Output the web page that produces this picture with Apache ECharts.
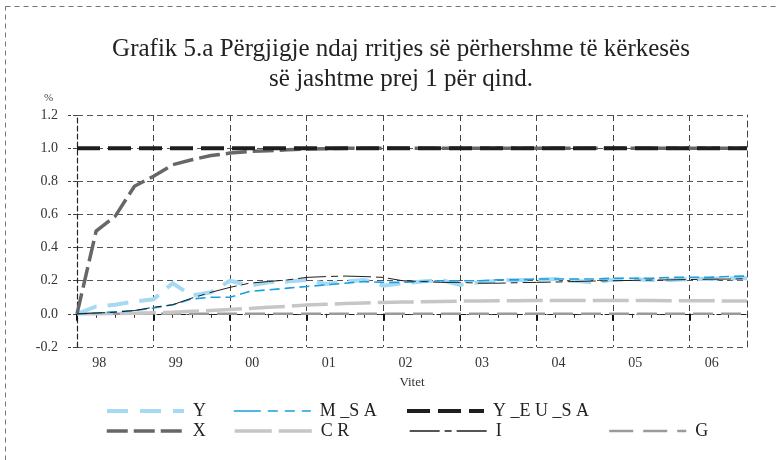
<!DOCTYPE html>
<html>
<head>
<meta charset="utf-8">
<script src="https://cdn.jsdelivr.net/npm/echarts@6/dist/echarts.min.js"></script>
<style>html,body{margin:0;padding:0;background:#fff}#c{width:777px;height:460px}</style>
</head>
<body>
<div id="c"></div>
<script>
// Quarterly categories 1998Q1 .. 2006Q4
var years = ['98','99','00','01','02','03','04','05','06'];
var categories = [];
years.forEach(function (y) { for (var q = 1; q <= 4; q++) categories.push(y + 'Q' + q); });

var yTicks = [-0.2, 0.0, 0.2, 0.4, 0.6, 0.8, 1.0, 1.2];

var seriesY = [0, 0.045, 0.055, 0.075, 0.088, 0.185, 0.11, 0.13, 0.20, 0.17, 0.19, 0.195,
  0.205, 0.18, 0.195, 0.205, 0.17, 0.185, 0.195, 0.205, 0.175, 0.19, 0.20, 0.205,
  0.205, 0.21, 0.20, 0.19, 0.205, 0.21, 0.205, 0.205, 0.21, 0.21, 0.215, 0.215];
var seriesM_SA = [0, 0.005, 0.012, 0.02, 0.035, 0.055, 0.09, 0.10, 0.10, 0.135, 0.145, 0.155,
  0.165, 0.175, 0.185, 0.195, 0.19, 0.19, 0.195, 0.20, 0.20, 0.20, 0.205, 0.205,
  0.21, 0.21, 0.21, 0.21, 0.215, 0.215, 0.215, 0.22, 0.22, 0.22, 0.225, 0.228];
var seriesY_EU_SA = [1, 1, 1, 1, 1, 1, 1, 1, 1, 1, 1, 1, 1, 1, 1, 1, 1, 1,
  1, 1, 1, 1, 1, 1, 1, 1, 1, 1, 1, 1, 1, 1, 1, 1, 1, 1];
var seriesX = [0, 0.50, 0.59, 0.77, 0.83, 0.90, 0.93, 0.955, 0.97, 0.98, 0.985, 0.99,
  0.995, 0.997, 1, 1, 1, 1, 1, 1, 1, 1, 1, 1, 1, 1, 1, 1, 1, 1, 1, 1, 1, 1, 1, 1];
var seriesCR = [0, 0.001, 0.002, 0.004, 0.006, 0.01, 0.015, 0.02, 0.027, 0.033, 0.04, 0.045,
  0.053, 0.058, 0.062, 0.066, 0.069, 0.071, 0.073, 0.075, 0.077, 0.078, 0.079, 0.079,
  0.08, 0.08, 0.08, 0.08, 0.08, 0.08, 0.08, 0.079, 0.079, 0.079, 0.078, 0.078];
var seriesI = [0, 0.005, 0.01, 0.02, 0.04, 0.055, 0.095, 0.13, 0.16, 0.185, 0.195, 0.205,
  0.22, 0.225, 0.228, 0.225, 0.22, 0.20, 0.195, 0.19, 0.19, 0.185, 0.185, 0.188,
  0.19, 0.192, 0.195, 0.198, 0.20, 0.202, 0.204, 0.205, 0.207, 0.209, 0.21, 0.212];
var seriesG = [0, 0, 0, 0, 0, 0, 0, 0, 0, 0, 0, 0, 0, 0, 0, 0, 0, 0,
  0, 0, 0, 0, 0, 0, 0, 0, 0, 0, 0, 0, 0, 0, 0, 0, 0, 0];

var FONT = 'Liberation Serif';
var chart = echarts.init(document.getElementById('c'), null, { renderer: 'canvas' });

var styles = {
  'G': { color: '#9a9a9a', width: 2.5, dash: [20, 8], legDash: [24, 10] },
  'C R': { color: '#c6c6c6', width: 3.5, dash: [36, 7], legDash: [37, 7] },
  'Y': { color: '#a6daf3', width: 4, dash: [21, 11], legDash: [21, 12] },
  'X': { color: '#676767', width: 3.5, dash: [21, 6], legDash: [21, 6] },
  'Y _E U _S A': { color: '#1e1e1e', width: 4, dash: [23, 8], legDash: [23, 8] },
  'M _S A': { color: '#1a9fe0', width: 1.6, dash: [10, 5], legDash: [27, 7, 10, 7, 10, 7] },
  'I': { color: '#1e1e1e', width: 1, dash: [28, 5, 7, 5], legDash: [30, 5, 7, 5] }
};

function mkSeries(name, data, z) {
  var s = styles[name];
  return {
    name: name, type: 'line', data: data, symbol: 'none', showSymbol: false,
    xAxisIndex: 0, yAxisIndex: 0, z: z, silent: true,
    lineStyle: { color: s.color, width: s.width, type: s.dash, cap: 'butt', join: 'miter' },
    itemStyle: { color: s.color }
  };
}

var series = [
  mkSeries('G', seriesG, 2),
  mkSeries('C R', seriesCR, 3),
  mkSeries('Y', seriesY, 4),
  mkSeries('X', seriesX, 5),
  mkSeries('Y _E U _S A', seriesY_EU_SA, 6),
  mkSeries('M _S A', seriesM_SA, 7),
  mkSeries('I', seriesI, 8)
];

function leg(name, left, top) {
  var s = styles[name];
  return {
    data: [name], left: left, top: top, itemWidth: 77, itemHeight: 12,
    padding: 0, itemGap: 0, selectedMode: false,
    itemStyle: { color: 'transparent', borderWidth: 0, opacity: 0 },
    lineStyle: { color: s.color, width: Math.max(s.width, 1.3), type: s.legDash, cap: 'butt' },
    textStyle: { fontFamily: FONT, fontSize: 18, color: '#222', padding: [0, 0, 0, 4] }
  };
}

var option = {
  animation: false,
  backgroundColor: '#fff',
  title: {
    text: 'Grafik 5.a Përgjigje ndaj rritjes së përhershme të kërkesës\nsë jashtme prej 1 për qind.',
    left: 396, top: 29, textAlign: 'center',
    textStyle: { fontFamily: FONT, fontSize: 25, fontWeight: 'normal', color: '#222', lineHeight: 30 }
  },
  legend: [
    leg('Y', 105, 402),
    leg('M _S A', 233, 402),
    leg('Y _E U _S A', 405, 402),
    leg('X', 105, 422),
    leg('C R', 233, 422),
    leg('I', 409, 422),
    leg('G', 608, 422)
  ],
  grid: { left: 77, right: 30, top: 115, bottom: 113, containLabel: false },
  xAxis: [{
    type: 'category', data: categories, boundaryGap: false, position: 'bottom',
    name: 'Vitet', nameLocation: 'middle', nameGap: 29,
    nameTextStyle: { fontFamily: FONT, fontSize: 13, color: '#333' },
    axisLine: { show: true, lineStyle: { color: '#222', width: 1.2, type: [5, 3] } },
    axisTick: { show: true, interval: 0, length: 4, lineStyle: { color: '#333', width: 1 } },
    axisLabel: {
      interval: function (i) { return i % 4 === 1; },
      formatter: function (v, i) { return years[Math.floor(i / 4)]; },
      fontFamily: FONT, fontSize: 14, color: '#333', margin: 9, padding: [0, 0, 0, 6]
    },
    splitLine: {
      show: true, interval: function (i) { return i % 4 === 0 && i > 0; },
      lineStyle: { color: '#444', width: 1, type: [6, 4] }
    }
  }, {
    type: 'category', data: categories, boundaryGap: false, position: 'bottom', offset: 0,
    axisLine: { show: false },
    axisTick: { show: true, interval: function (i) { return i % 4 === 0; }, length: 7, lineStyle: { color: '#111', width: 2 } },
    axisLabel: { show: false }, splitLine: { show: false }
  }],
  yAxis: [{
    type: 'value', min: yTicks[0], max: yTicks[yTicks.length - 1], interval: 0.2,
    axisLine: { show: true, lineStyle: { color: '#222', width: 1.2, type: [5, 3] } },
    axisTick: { show: true, length: 9, lineStyle: { color: '#444', width: 1, type: [4, 2] } },
    axisLabel: {
      formatter: function (v) { return v.toFixed(1); },
      fontFamily: FONT, fontSize: 14, color: '#333', margin: 19
    },
    splitLine: { show: true, lineStyle: { color: '#555', width: 1, type: [6, 4] } }
  }, {
    type: 'value', min: yTicks[0], max: yTicks[yTicks.length - 1], interval: 0.2, position: 'right',
    axisLine: { show: true, lineStyle: { color: '#444', width: 1, type: [6, 4] } },
    axisTick: { show: false }, axisLabel: { show: false }, splitLine: { show: false }
  }],
  graphic: [
    { type: 'rect', silent: true, shape: { x: 5.5, y: 6.5, width: 1000, height: 1000 },
      style: { fill: null, stroke: '#777', lineWidth: 1, lineDash: [5, 4] } },
    { type: 'text', silent: true, left: 44, top: 93,
      style: { text: '%', font: '11px "Liberation Serif"', fill: '#444' } }
  ],
  series: series
};
chart.setOption(option);
</script>
</body>
</html>
